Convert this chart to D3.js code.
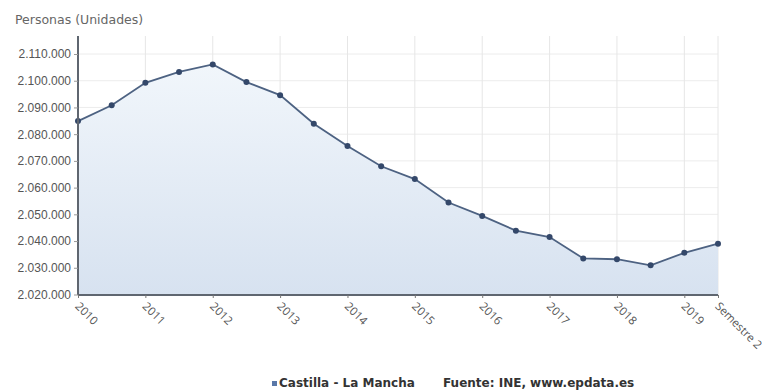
<!DOCTYPE html>
<html>
<head>
<meta charset="utf-8">
<script src="https://cdn.jsdelivr.net/npm/d3@7"></script>
<style>
  body { margin: 0; background: #fff; }
  svg { font-family: "DejaVu Sans", "Open Sans", sans-serif; }
</style>
</head>
<body>
<div id="chart"></div>
<script>
// half-year periods, 2010 S1 .. 2019 S2
const periods = ["2010", "2010 S2", "2011", "2011 S2", "2012", "2012 S2", "2013", "2013 S2",
  "2014", "2014 S2", "2015", "2015 S2", "2016", "2016 S2", "2017", "2017 S2",
  "2018", "2018 S2", "2019", "Semestre 2"];
const tickLabels = ["2010", "2011", "2012", "2013", "2014", "2015", "2016", "2017", "2018", "2019", "Semestre 2"];
const values = [2084900, 2090800, 2099200, 2103300, 2106100, 2099500, 2094600, 2083900,
  2075600, 2068000, 2063200, 2054400, 2049400, 2043900, 2041500, 2033500,
  2033200, 2030900, 2035600, 2039000];
const yTicks = [2020000, 2030000, 2040000, 2050000, 2060000, 2070000, 2080000, 2090000, 2100000, 2110000];

const width = 765, height = 390;
const margin = {left: 78, right: 47, top: 36, bottom: 95};
const chartWidth = width - margin.left - margin.right;
const chartHeight = height - margin.top - margin.bottom;

const svg = d3.select("#chart").append("svg")
    .attr("width", width)
    .attr("height", height);

const defs = svg.append("defs");
const grad = defs.append("linearGradient")
    .attr("id", "areaGrad")
    .attr("x1", 0).attr("y1", 0).attr("x2", 0).attr("y2", 1);
grad.append("stop").attr("offset", "0%").attr("stop-color", "#f1f6fb");
grad.append("stop").attr("offset", "100%").attr("stop-color", "#d7e2f0");

const chart = svg.append("g")
    .attr("transform", `translate(${margin.left}, ${margin.top})`);

const xScale = d3.scalePoint()
    .domain(periods)
    .range([0, chartWidth]);

const yScale = d3.scaleLinear()
    .domain([2020000, 2110000])
    .range([chartHeight - 0.5, 18]);

const fmt = v => d3.format(",")(v).replace(/,/g, ".");

// grid
chart.append("g").selectAll("line")
    .data(yTicks)
    .enter().append("line")
    .attr("x1", 0).attr("x2", chartWidth)
    .attr("y1", d => yScale(d)).attr("y2", d => yScale(d))
    .attr("stroke", "#ececec");

const tickPeriods = periods.filter((p, i) => i % 2 === 0).concat([periods[periods.length - 1]]);
chart.append("g").selectAll("line")
    .data(tickPeriods)
    .enter().append("line")
    .attr("x1", d => xScale(d)).attr("x2", d => xScale(d))
    .attr("y1", 0).attr("y2", chartHeight)
    .attr("stroke", "#e6e6e6");

// area + line
const area = d3.area()
    .x((d, i) => xScale(periods[i]))
    .y0(chartHeight)
    .y1(d => yScale(d));

chart.append("path")
    .datum(values)
    .attr("d", area)
    .attr("fill", "url(#areaGrad)");

const line = d3.line()
    .x((d, i) => xScale(periods[i]))
    .y(d => yScale(d));

chart.append("path")
    .datum(values)
    .attr("d", line)
    .attr("fill", "none")
    .attr("stroke", "#4d6282")
    .attr("stroke-width", 1.8);

chart.selectAll(".dot")
    .data(values)
    .enter().append("circle")
    .attr("class", "dot")
    .attr("cx", (d, i) => xScale(periods[i]))
    .attr("cy", d => yScale(d))
    .attr("r", 3)
    .attr("fill", "#34486a");

// y axis
const yAxis = d3.axisLeft(yScale)
    .tickValues(yTicks)
    .tickFormat(fmt)
    .tickSize(4)
    .tickPadding(3);
const yG = chart.append("g").call(yAxis);
yG.select(".domain").attr("stroke", "#5f6670").attr("stroke-width", 2)
    .attr("d", `M0,0V${chartHeight}`);
yG.selectAll(".tick line").attr("stroke", "#999");
yG.selectAll("text").attr("fill", "#555").style("font-size", "12px");

// x axis
const xAxis = d3.axisBottom(xScale)
    .tickValues(tickPeriods)
    .tickFormat(d => tickLabels[tickPeriods.indexOf(d)])
    .tickSize(3);
const xG = chart.append("g")
    .attr("transform", `translate(0, ${chartHeight})`)
    .call(xAxis);
xG.select(".domain").attr("stroke", "#5f6670").attr("stroke-width", 2)
    .attr("d", `M0,0H${chartWidth}`);
xG.selectAll(".tick line").attr("stroke", "#777");
xG.selectAll("text")
    .attr("fill", "#555")
    .style("font-family", "'Open Sans', sans-serif")
    .style("font-size", "11.5px")
    .attr("text-anchor", "start")
    .attr("x", 0).attr("y", 0).attr("dy", 0)
    .attr("transform", "translate(-4, 12) rotate(45)");

// axis title
svg.append("text")
    .attr("x", 15).attr("y", 24)
    .attr("fill", "#666")
    .style("font-size", "12.5px")
    .text("Personas (Unidades)");

// legend
const legend = svg.append("g").attr("transform", "translate(272, 387)");
legend.append("rect")
    .attr("x", 0).attr("y", -6)
    .attr("width", 5).attr("height", 5)
    .attr("fill", "#5a78a8");
legend.append("text")
    .attr("x", 7).attr("y", 0)
    .attr("fill", "#333")
    .style("font-size", "12px")
    .style("font-weight", "bold")
    .text("Castilla - La Mancha");
legend.append("text")
    .attr("x", 171).attr("y", 0)
    .attr("fill", "#333")
    .style("font-size", "12px")
    .style("font-weight", "bold")
    .text("Fuente: INE, www.epdata.es");
</script>
</body>
</html>
